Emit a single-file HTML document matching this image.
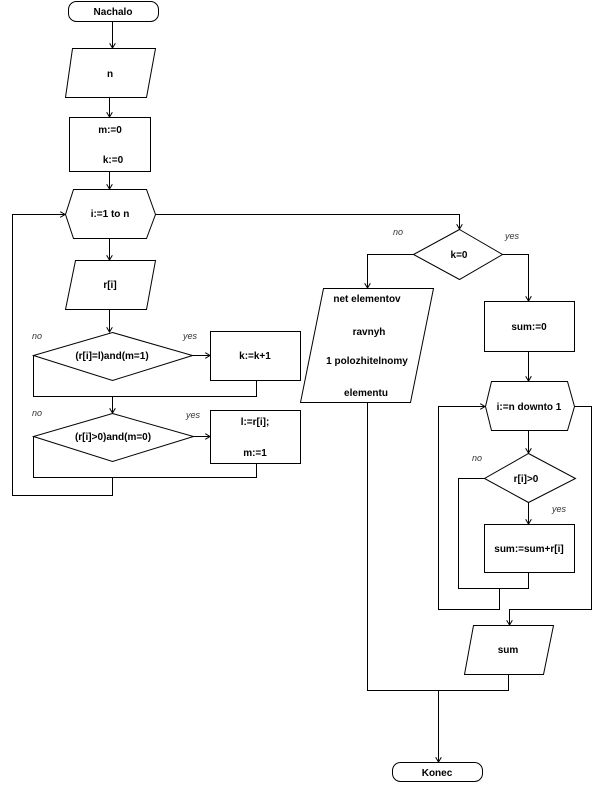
<!DOCTYPE html>
<html><head><meta charset="utf-8"><style>
html,body{margin:0;padding:0;background:#fff}
svg text{font-family:"Liberation Sans",sans-serif;font-weight:bold;font-size:10px;fill:#000}
svg text.s{font-weight:normal;font-size:9px;font-style:italic;fill:#333}
</style></head><body>
<svg width="602" height="782" viewBox="0 0 602 782" xmlns="http://www.w3.org/2000/svg">
<defs><marker id="a" markerWidth="6" markerHeight="6" refX="5" refY="3" orient="auto" markerUnits="userSpaceOnUse"><path d="M0,0 L5,3 L0,6" fill="none" stroke="#000"/></marker></defs>
<g fill="none" stroke="#000" stroke-width="1">
<rect x="68.5" y="1.5" width="90" height="20" rx="8"/>
<polygon points="72.5,48.5 155.5,48.5 146.5,97.5 65.5,97.5"/>
<rect x="69.5" y="117.5" width="81" height="54"/>
<polygon points="73.5,189.5 146.5,189.5 155.5,214.5 146.5,238.5 73.5,238.5 65.5,214.5"/>
<polygon points="75.5,260.5 155.5,260.5 146.5,309.5 65.5,309.5"/>
<polygon points="112.5,332.5 192.5,355.5 112.5,380.5 33.5,355.5"/>
<rect x="210.5" y="331.5" width="90" height="49"/>
<polygon points="112.5,413.5 193.5,436.5 112.5,461.5 33.5,436.5"/>
<rect x="210.5" y="410.5" width="90" height="53"/>
<polygon points="459.5,229.5 502.5,254.5 459.5,279.5 413.5,254.5"/>
<polygon points="323.5,288.5 433.5,288.5 410.5,402.5 300.5,402.5"/>
<rect x="484.5" y="301.5" width="90" height="50"/>
<polygon points="491.5,381.5 567.5,381.5 574.5,406.5 567.5,430.5 491.5,430.5 485.5,406.5"/>
<polygon points="528.5,453.5 575.5,478.5 528.5,502.5 484.5,478.5"/>
<rect x="484.5" y="524.5" width="90" height="48"/>
<polygon points="473.5,625.5 553.5,625.5 543.5,674.5 464.5,674.5"/>
<rect x="392.5" y="762.5" width="90" height="19" rx="8"/>
<path d="M112.5,21.5 V48" marker-end="url(#a)"/>
<path d="M109.5,97.5 V117" marker-end="url(#a)"/>
<path d="M109.5,171.5 V189" marker-end="url(#a)"/>
<path d="M109.5,238.5 V260" marker-end="url(#a)"/>
<path d="M109.5,309.5 V332" marker-end="url(#a)"/>
<path d="M192.5,355.5 H210" marker-end="url(#a)"/>
<path d="M33.5,355.5 V396.5 H256.5 V380.5"/>
<path d="M112.5,396.5 V413" marker-end="url(#a)"/>
<path d="M193.5,436.5 H210" marker-end="url(#a)"/>
<path d="M33.5,436.5 V477.5 H256.5 V463.5"/>
<path d="M112.5,477.5 V495.5 H12.5 V214.5 H65" marker-end="url(#a)"/>
<path d="M155.5,214.5 H459.5 V229" marker-end="url(#a)"/>
<path d="M413.5,254.5 H367.5 V288" marker-end="url(#a)"/>
<path d="M502.5,254.5 H528.5 V301" marker-end="url(#a)"/>
<path d="M528.5,351.5 V381" marker-end="url(#a)"/>
<path d="M528.5,430.5 V453" marker-end="url(#a)"/>
<path d="M528.5,502.5 V524" marker-end="url(#a)"/>
<path d="M484.5,478.5 H458.5 V588.5 H528.5 V572.5"/>
<path d="M499.5,588.5 V609.5 H438.5 V406.5 H485" marker-end="url(#a)"/>
<path d="M574.5,406.5 H591.5 V609.5 H509.5 V625" marker-end="url(#a)"/>
<path d="M367.5,402.5 V690.5 H508.5 V674.5"/>
<path d="M438.5,690.5 V762" marker-end="url(#a)"/>
</g>
<g text-anchor="middle">
<text x="113" y="15">Nachalo</text>
<text x="110" y="77">n</text>
<text x="110" y="133">m:=0</text>
<text x="113" y="163">k:=0</text>
<text x="110" y="217">i:=1 to n</text>
<text x="110" y="288">r[i]</text>
<text x="112" y="359">(r[i]=l)and(m=1)</text>
<text x="255" y="359">k:=k+1</text>
<text x="113" y="440">(r[i]&gt;0)and(m=0)</text>
<text x="255" y="425">l:=r[i];</text>
<text x="255" y="456">m:=1</text>
<text x="459" y="258">k=0</text>
<text x="367" y="302">net elementov</text>
<text x="369" y="335">ravnyh</text>
<text x="367" y="364">1 polozhitelnomy</text>
<text x="366" y="396">elementu</text>
<text x="529" y="330">sum:=0</text>
<text x="529" y="410">i:=n downto 1</text>
<text x="526" y="482">r[i]&gt;0</text>
<text x="529" y="552">sum:=sum+r[i]</text>
<text x="508" y="653">sum</text>
<text x="437" y="776">Konec</text>
</g>
<text class="s" x="32" y="339">no</text>
<text class="s" x="183" y="339">yes</text>
<text class="s" x="32" y="416">no</text>
<text class="s" x="186" y="418">yes</text>
<text class="s" x="393" y="235">no</text>
<text class="s" x="505" y="239">yes</text>
<text class="s" x="472" y="461">no</text>
<text class="s" x="552" y="512">yes</text>
</svg>
</body></html>
